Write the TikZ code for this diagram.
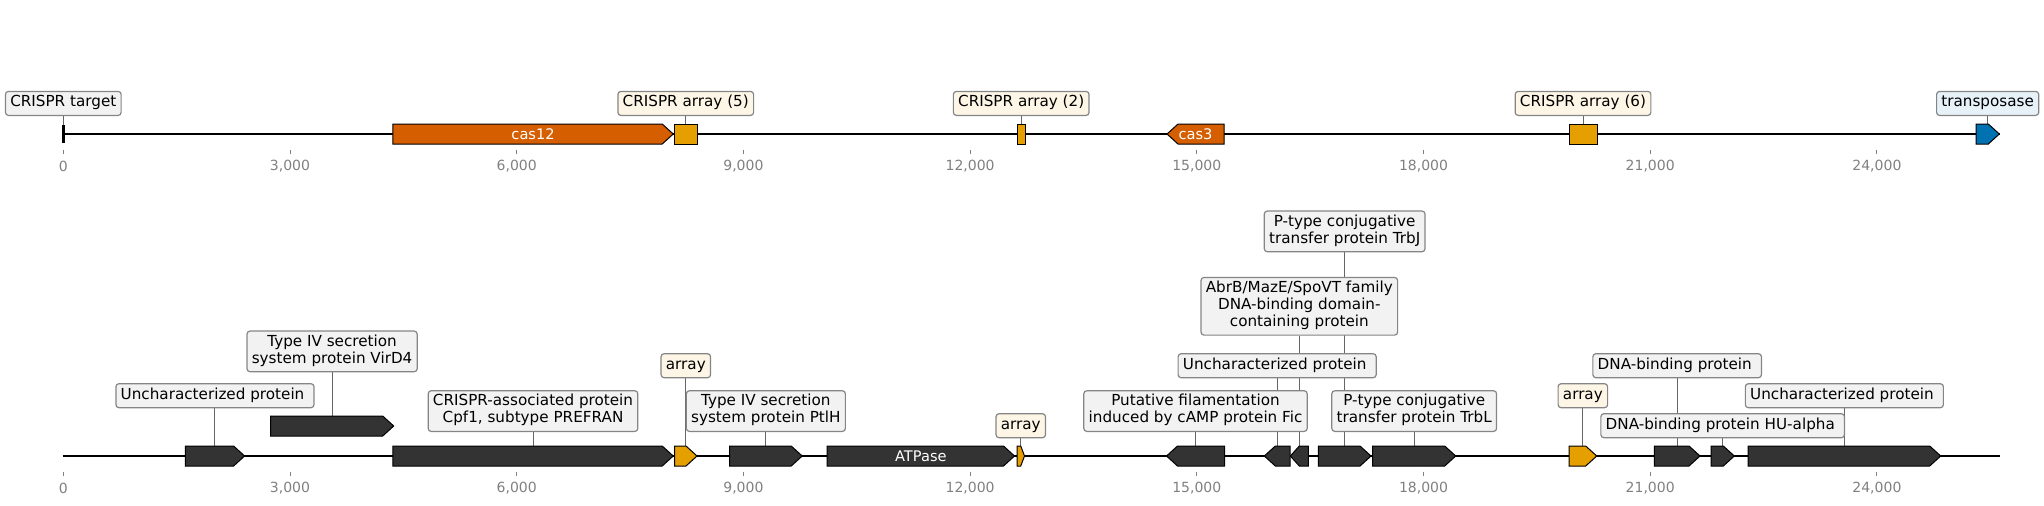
\documentclass[tikz,border=0pt]{standalone}
\usepackage{fontspec}
\setmainfont{DejaVu Sans}
\usepackage{xcolor}
\usepackage{tikz}

\definecolor{genedark}{HTML}{333333}
\definecolor{casred}{HTML}{D55E00}
\definecolor{arrorange}{HTML}{E69F00}
\definecolor{tnpblue}{HTML}{0072B2}
\definecolor{boxgray}{HTML}{F2F2F2}
\definecolor{boxcream}{HTML}{FDF6E6}
\definecolor{boxblue}{HTML}{E6F1F8}
\definecolor{edgegray}{HTML}{858585}
\definecolor{tickgray}{HTML}{808080}

\pgfdeclarelayer{bg}
\pgfsetlayers{bg,main}

\newcommand\lblfont{\fontsize{7.6pt}{8.5pt}\selectfont}
\newcommand\tickfont{\fontsize{7pt}{8pt}\selectfont}

% forward gene: [fill]{name}{start}{end}{y centre}
\newcommand\fgene[5][genedark]{%
  \pgfmathsetmacro\hd{min(11,(#4-#3)/2)}%
  \draw[gene=#1] (#3,#5-10) -- ({#4-\hd},#5-10) -- (#4,#5) -- ({#4-\hd},#5+10) -- (#3,#5+10) -- cycle;
  \coordinate (#2) at ({(#3+#4)/2},#5-10);}
% reverse gene
\newcommand\rgene[5][genedark]{%
  \pgfmathsetmacro\hd{min(11,(#4-#3)/2)}%
  \draw[gene=#1] (#4,#5-10) -- ({#3+\hd},#5-10) -- (#3,#5) -- ({#3+\hd},#5+10) -- (#4,#5+10) -- cycle;
  \coordinate (#2) at ({(#3+#4)/2},#5-10);}
% no strand
\newcommand\agene[5][arrorange]{%
  \draw[gene=#1] (#3,#5-10) rectangle (#4,#5+10);
  \coordinate (#2) at ({(#3+#4)/2},#5-10);}

\tikzset{
  gene/.style={draw=black, line width=0.5pt, fill=#1},
  gene/.default=genedark,
  lbl/.style={draw=edgegray, fill=#1, line width=0.6pt, rounded corners=1.5pt,
    font=\lblfont, align=center, anchor=south, inner xsep=2.4pt, inner ysep=1.75pt,
    execute at begin node=\strut, execute at end node=\strut},
  lbl/.default=boxgray,
  inlbl/.style={text=white, font=\fontsize{7.3pt}{8.5pt}\selectfont, inner sep=0pt},
  leader/.style={draw=black!60, line width=0.5pt},
  seqline/.style={draw=black, line width=1pt},
  axtick/.style={draw=tickgray, line width=0.5pt},
  ticklbl/.style={text=tickgray, font=\tickfont, inner sep=0pt},
}

\begin{document}
\begin{tikzpicture}[x=0.5pt,y=-0.5pt]
  \useasboundingbox (0,0) rectangle (2044,505);

  % top track
  \coordinate (top-l) at (63.3,134);
  \coordinate (top-r) at (1999.5,134);
  \draw[seqline] (top-l) -- (top-r);
  \foreach \k/\t in {0/0,1/{3,000},2/{6,000},3/{9,000},4/{12,000},5/{15,000},6/{18,000},7/{21,000},8/{24,000}}{
    \draw[axtick] ({63.3+226.7*\k},149.5) -- ++(0,4.5);
    \node[ticklbl] (t-top-\k) at ({63.3+226.7*\k},166) {\t};
  }
  \draw[line width=1.25pt] (63.3,125) -- (63.3,143);
  \coordinate (g-target) at (63.3,125);
  \fgene[casred]{g-cas12}{392.9}{673.2}{134}
  \agene{g-arr5}{674.5}{697}{134}
  \agene{g-arr2}{1017.4}{1025}{134}
  \rgene[casred]{g-cas3}{1167}{1224}{134}
  \agene{g-arr6}{1569}{1597}{134}
  \fgene[tnpblue]{g-tnp}{1976}{1999.3}{134}
  \node[inlbl] (n-cas12) at (g-cas12 |- 0,134) {cas12};
  \node[inlbl] (n-cas3) at (g-cas3 |- 0,134) {cas3};

  \node[lbl] (l-target) at (g-target |- 0,116) {CRISPR target};
  \node[lbl=boxcream] (l-arr5) at (g-arr5 |- 0,116) {CRISPR array (5)};
  \node[lbl=boxcream] (l-arr2) at (g-arr2 |- 0,116) {CRISPR array (2)};
  \node[lbl=boxcream] (l-arr6) at (g-arr6 |- 0,116) {CRISPR array (6)};
  \node[lbl=boxblue] (l-tnp) at (g-tnp |- 0,116) {transposase};

  % bottom track
  \coordinate (bot-l) at (62.5,456);
  \coordinate (bot-r) at (2000,456);
  \draw[seqline] (bot-l) -- (bot-r);
  \foreach \k/\t in {0/0,1/{3,000},2/{6,000},3/{9,000},4/{12,000},5/{15,000},6/{18,000},7/{21,000},8/{24,000}}{
    \draw[axtick] ({63.3+226.7*\k},471.5) -- ++(0,4.5);
    \node[ticklbl] (t-bot-\k) at ({63.3+226.7*\k},488.3) {\t};
  }
  \fgene{g-u1}{185.3}{244.6}{456}
  \fgene{g-vird4}{270.5}{393.7}{426}
  \fgene{g-cpf1}{392.8}{673.2}{456}
  \fgene[arrorange]{g-a1}{674.6}{697}{456}
  \fgene{g-ptlh}{729.5}{802.2}{456}
  \fgene{g-atp}{827.2}{1014.5}{456}
  \fgene[arrorange]{g-a2}{1017}{1024.5}{456}
  \rgene{g-fic}{1166.5}{1224.5}{456}
  \rgene{g-u2}{1264.3}{1290}{456}
  \rgene{g-abrb}{1290.3}{1308.3}{456}
  \fgene{g-trbj}{1318.3}{1371}{456}
  \fgene{g-trbl}{1372.7}{1455.7}{456}
  \fgene[arrorange]{g-a3}{1569}{1596.7}{456}
  \fgene{g-dnab}{1654.3}{1700}{456}
  \fgene{g-hu}{1711}{1734.3}{456}
  \fgene{g-u3}{1748}{1940.7}{456}
  \node[inlbl] (n-atp) at (g-atp |- 0,456) {ATPase};

  \node[lbl] (l-u1) at (g-u1 |- 0,408.3) {Uncharacterized protein\ };
  \node[lbl] (l-vird4) at (g-vird4 |- 0,372.3) {Type IV secretion\\system protein VirD4};
  \node[lbl] (l-cpf1) at (g-cpf1 |- 0,432) {CRISPR-associated protein\\Cpf1, subtype PREFRAN};
  \node[lbl=boxcream] (l-a1) at (g-a1 |- 0,378.3) {array};
  \node[lbl] (l-ptlh) at (g-ptlh |- 0,432) {Type IV secretion\\system protein PtlH};
  \node[lbl=boxcream] (l-a2) at (g-a2 |- 0,438.3) {array};
  \node[lbl] (l-fic) at (g-fic |- 0,432) {Putative filamentation\\induced by cAMP protein Fic};
  \node[lbl] (l-u2) at (g-u2 |- 0,378.3) {Uncharacterized protein\ };
  \node[lbl] (l-abrb) at (g-abrb |- 0,335.7) {AbrB/MazE/SpoVT family\\DNA-binding domain-\\containing protein};
  \node[lbl] (l-trbj) at (g-trbj |- 0,252.3) {P-type conjugative\\transfer protein TrbJ};
  \node[lbl] (l-trbl) at (g-trbl |- 0,432) {P-type conjugative\\transfer protein TrbL};
  \node[lbl=boxcream] (l-a3) at (g-a3 |- 0,408.3) {array};
  \node[lbl] (l-dnab) at (g-dnab |- 0,378.3) {DNA-binding protein\ };
  \node[lbl] (l-hu) at (g-hu |- 0,438.3) {DNA-binding protein HU-alpha\ };
  \node[lbl] (l-u3) at (g-u3 |- 0,408.3) {Uncharacterized protein\ };

  % leaders behind the boxes
  \begin{pgfonlayer}{bg}
    \foreach \n in {target,arr5,arr2,arr6,tnp,u1,vird4,cpf1,a1,ptlh,a2,fic,u2,abrb,trbj,trbl,a3,dnab,hu,u3}
      \draw[leader] (l-\n.south) -- (g-\n);
  \end{pgfonlayer}
\end{tikzpicture}
\end{document}
